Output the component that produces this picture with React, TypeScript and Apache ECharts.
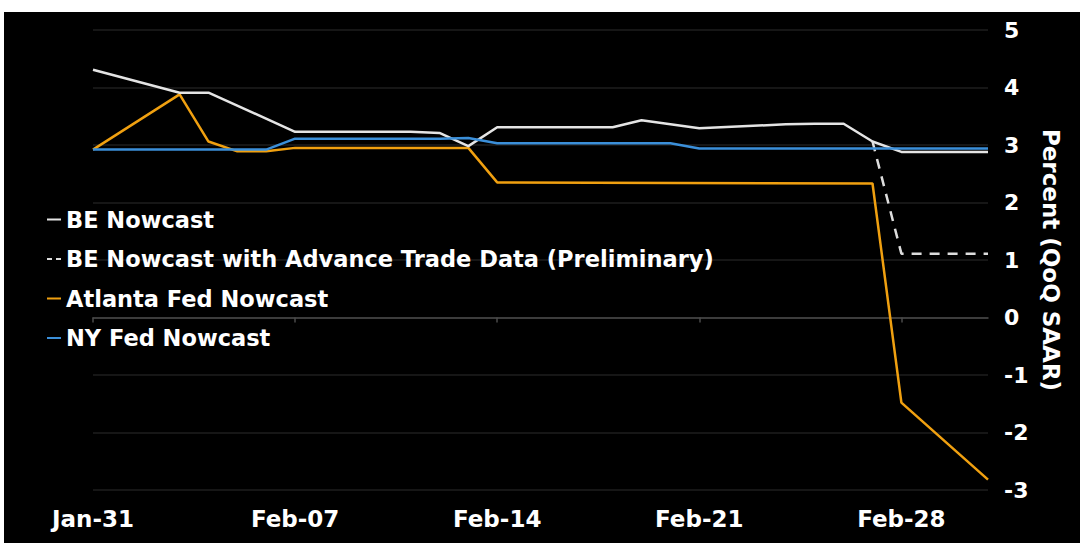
import React, { useEffect, useRef } from "react";
import * as echarts from "echarts";

// Tick labels on the date axis
const tickLabels = ["Jan-31", "Feb-07", "Feb-14", "Feb-21", "Feb-28"];
const yTicks = [5, 4, 3, 2, 1, 0, -1, -2, -3];

// BE Nowcast
const beDates = ["Jan-31", "Feb-03", "Feb-04", "Feb-07", "Feb-11", "Feb-12", "Feb-13", "Feb-14", "Feb-18", "Feb-19", "Feb-20", "Feb-21", "Feb-24", "Feb-25", "Feb-26", "Feb-27", "Feb-28", "Mar-03"];
const beValues = [4.31, 3.91, 3.91, 3.23, 3.23, 3.21, 2.98, 3.31, 3.31, 3.43, 3.36, 3.29, 3.36, 3.37, 3.37, 3.06, 2.88, 2.88];

// BE Nowcast with Advance Trade Data (Preliminary)
const beTradeDates = ["Feb-27", "Feb-28", "Mar-03"];
const beTradeValues = [3.06, 1.11, 1.11];

// Atlanta Fed Nowcast
const atlDates = ["Jan-31", "Feb-03", "Feb-04", "Feb-05", "Feb-06", "Feb-07", "Feb-13", "Feb-14", "Feb-27", "Feb-28", "Mar-03"];
const atlValues = [2.92, 3.88, 3.06, 2.89, 2.89, 2.95, 2.95, 2.35, 2.33, -1.48, -2.82];

// NY Fed Nowcast
const nyDates = ["Jan-31", "Feb-06", "Feb-07", "Feb-12", "Feb-13", "Feb-14", "Feb-20", "Feb-21", "Mar-03"];
const nyValues = [2.92, 2.92, 3.11, 3.11, 3.12, 3.03, 3.03, 2.94, 2.94];

const seriesNames = [
  "BE Nowcast",
  "BE Nowcast with Advance Trade Data (Preliminary)",
  "Atlanta Fed Nowcast",
  "NY Fed Nowcast",
];

const MONTHS: Record<string, number> = { Jan: 0, Feb: 1, Mar: 2 };
const BASE = Date.UTC(2025, 0, 31);
const dayOf = (s: string) => {
  const [m, d] = s.split("-");
  return Math.round((Date.UTC(2025, MONTHS[m], Number(d)) - BASE) / 86400000);
};
const pairs = (dates: string[], vals: number[]) => dates.map((d, i) => [dayOf(d), vals[i]]);
const tickDays = tickLabels.map(dayOf);
const lastDay = dayOf("Mar-03");

const FONT = "DejaVu Sans";

export default function App() {
  const ref = useRef<HTMLDivElement>(null);
  useEffect(() => {
    if (!ref.current) return;
    const chart = echarts.init(ref.current, null, { renderer: "svg" });
    const labelFor = (v: number) => {
      const i = tickDays.indexOf(v);
      return i >= 0 ? tickLabels[i] : "";
    };
    chart.setOption({
      animation: false,
      backgroundColor: "#000000",
      grid: { left: 89, right: 92, top: 18, bottom: 53, containLabel: false },
      legend: {
        orient: "vertical",
        left: 37,
        top: 191,
        padding: 5,
        itemWidth: 14,
        itemHeight: 10,
        itemGap: 16.5,
        itemStyle: { color: "rgba(0,0,0,0)", borderWidth: 0, opacity: 0 },
        textStyle: { color: "#ffffff", fontFamily: FONT, fontWeight: "bold", fontSize: 22.5, lineHeight: 22 },
        data: seriesNames.map((name, i) => ({
          name,
          itemStyle: { color: "rgba(0,0,0,0)", borderWidth: 0, opacity: 0 },
          lineStyle: i === 1 ? { type: [5, 4], width: 2, color: "#dddddd" } : { width: 2 },
        })),
      },
      xAxis: [
        {
          type: "value",
          position: "bottom",
          min: 0,
          max: lastDay,
          interval: 7,
          axisLine: { show: true, onZero: true, lineStyle: { color: "#4a4a4a", width: 1.5 } },
          axisTick: { show: true, length: 5, customValues: tickDays, lineStyle: { color: "#4a4a4a", width: 1.5 } },
          axisLabel: { show: false },
          splitLine: { show: false },
        },
        {
          type: "value",
          position: "bottom",
          min: 0,
          max: lastDay,
          interval: 7,
          axisLine: { show: false, onZero: false },
          axisTick: { show: false },
          splitLine: { show: false },
          axisLabel: {
            show: true,
            customValues: tickDays,
            formatter: (v: number) => labelFor(v),
            color: "#ffffff",
            fontFamily: FONT,
            fontWeight: "bold",
            fontSize: 23,
            margin: 17,
          },
        },
      ],
      yAxis: {
        type: "value",
        position: "right",
        min: -3,
        max: 5,
        interval: 1,
        name: "Percent (QoQ SAAR)",
        nameLocation: "middle",
        nameRotate: -90,
        nameGap: 51,
        nameTextStyle: { color: "#ffffff", fontFamily: FONT, fontWeight: "bold", fontSize: 23 },
        axisLine: { show: false },
        axisTick: { show: false },
        axisLabel: {
          color: "#ffffff",
          fontFamily: FONT,
          fontWeight: "bold",
          fontSize: 22,
          margin: 16,
          formatter: (v: number) => (yTicks.includes(v) ? String(v) : ""),
        },
        splitLine: { show: true, lineStyle: { color: "#1e1e1e", width: 1.5 } },
      },
      series: [
        {
          name: seriesNames[1],
          type: "line",
          data: pairs(beTradeDates, beTradeValues),
          symbol: "none",
          lineStyle: { color: "#dddddd", width: 2.5, type: [10, 8] },
          itemStyle: { color: "#dddddd" },
          z: 2,
        },
        {
          name: seriesNames[2],
          type: "line",
          data: pairs(atlDates, atlValues),
          symbol: "none",
          lineStyle: { color: "#f0a010", width: 2.5 },
          itemStyle: { color: "#f0a010" },
          z: 3,
        },
        {
          name: seriesNames[0],
          type: "line",
          data: pairs(beDates, beValues),
          symbol: "none",
          lineStyle: { color: "#e4e4e4", width: 2.5 },
          itemStyle: { color: "#e4e4e4" },
          z: 4,
        },
        {
          name: seriesNames[3],
          type: "line",
          data: pairs(nyDates, nyValues),
          symbol: "none",
          lineStyle: { color: "#3b8fd9", width: 2.5 },
          itemStyle: { color: "#3b8fd9" },
          z: 5,
        },
      ],
    });
    return () => chart.dispose();
  }, []);
  return (
    <div style={{ position: "absolute", left: 0, top: 0, width: 1084, height: 552, background: "#ffffff" }}>
      <div ref={ref} style={{ position: "absolute", left: 4, top: 12, width: 1076, height: 531 }} />
    </div>
  );
}
